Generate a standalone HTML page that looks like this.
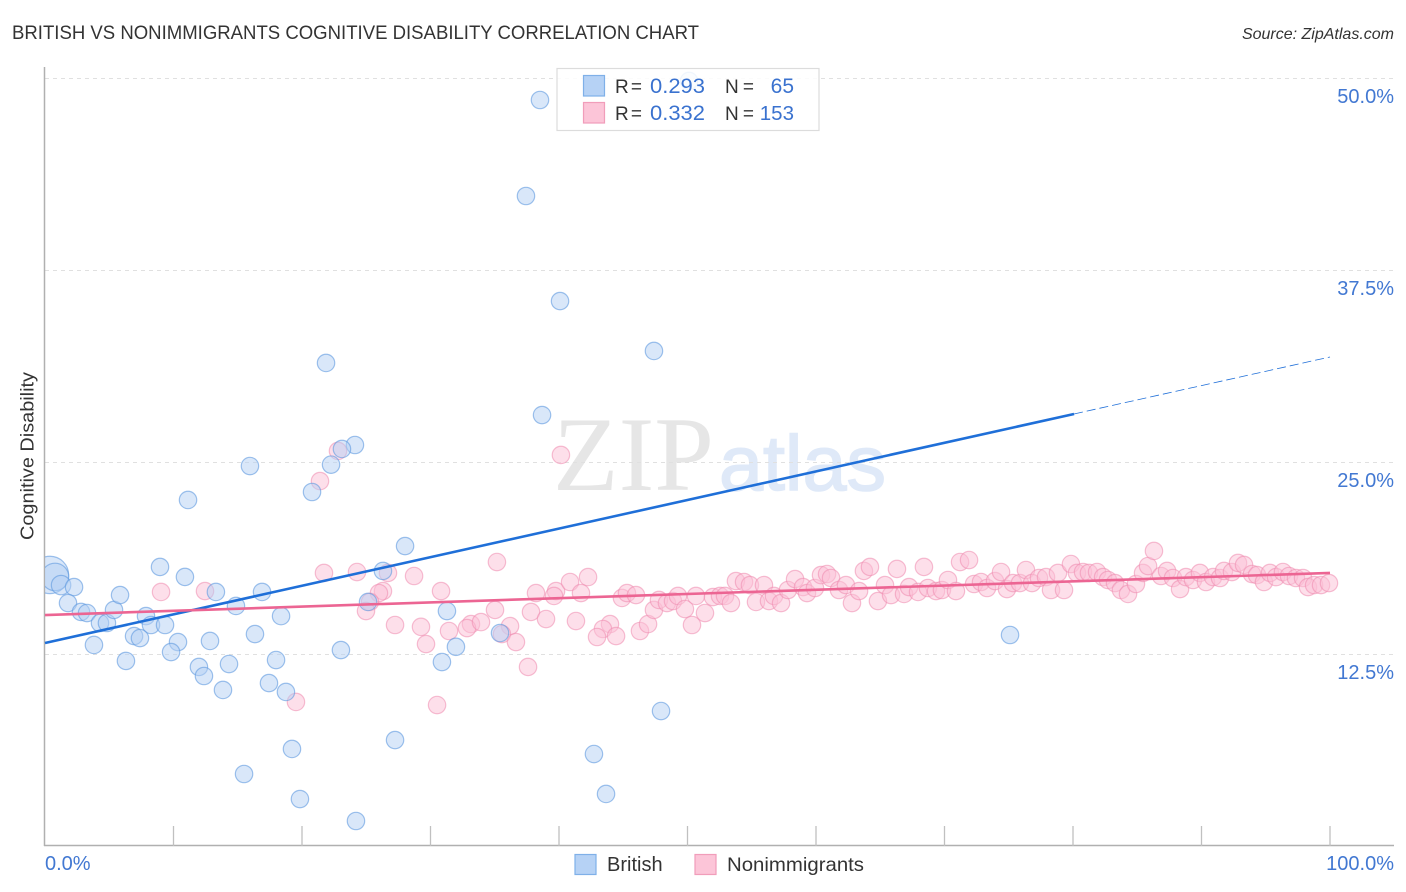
<!DOCTYPE html>
<html lang="en">
<head>
<meta charset="utf-8">
<title>British vs Nonimmigrants Cognitive Disability Correlation Chart</title>
<style>
html,body{margin:0;padding:0;background:#fff;width:1406px;height:892px;overflow:hidden}
svg{display:block;font-family:"Liberation Sans",sans-serif}
</style>
</head>
<body>
<svg id="chart" xmlns="http://www.w3.org/2000/svg" width="1406" height="892" viewBox="0 0 1406 892">
  <defs><clipPath id="plot-clip"><rect x="45" y="60" width="1349" height="786"/></clipPath></defs>
  <text x="12" y="39" font-size="19" fill="#333" textLength="687" lengthAdjust="spacingAndGlyphs">BRITISH VS NONIMMIGRANTS COGNITIVE DISABILITY CORRELATION CHART</text>
  <text x="1394" y="39" font-size="16" font-style="italic" fill="#333" text-anchor="end">Source: ZipAtlas.com</text>
  <g>
    <text x="553" y="490" font-family="'Liberation Serif',serif" font-size="106" fill="#e6e6e6" textLength="161" lengthAdjust="spacingAndGlyphs">ZIP</text>
    <text x="719" y="490" font-size="78" fill="#dfe9f8" stroke="#dfe9f8" stroke-width="1.5" textLength="167" lengthAdjust="spacingAndGlyphs">atlas</text>
  </g>
  <g id="grid"></g>
  <g id="axes">
    <line x1="44.5" y1="67" x2="44.5" y2="846" stroke="#b0b0b0" stroke-width="1.5"/>
    <line x1="44" y1="845.5" x2="1394" y2="845.5" stroke="#b0b0b0" stroke-width="1.5"/>
  </g>
  <g id="xticks"></g>
  <g id="points" clip-path="url(#plot-clip)"></g>
  <g id="trends"></g>
  <g id="ylabels"></g>
  <g id="xlabels"></g>
  <text transform="translate(33.5 456) rotate(-90)" font-size="18.5" fill="#333" text-anchor="middle" textLength="168" lengthAdjust="spacingAndGlyphs">Cognitive Disability</text>

  <g>
    <rect x="557" y="68.5" width="262" height="62" fill="#fff" fill-opacity="0.85" stroke="#dcdcdc" stroke-width="1.2"/>
    <rect x="583.5" y="75.5" width="21" height="20.5" fill="#b6d2f5" stroke="#7fb0e8" stroke-width="1.2"/>
    <rect x="583.5" y="102.5" width="21" height="20.5" fill="#fcc5d8" stroke="#f19dba" stroke-width="1.2"/>
    <text x="615" y="93" font-size="19" fill="#333" textLength="27" lengthAdjust="spacing">R =</text>
    <text x="650" y="93" font-size="21" fill="#3a72cf" textLength="55" lengthAdjust="spacingAndGlyphs">0.293</text>
    <text x="725" y="93" font-size="19" fill="#333" textLength="29" lengthAdjust="spacing">N =</text>
    <text x="794" y="93" font-size="21" fill="#3a72cf" text-anchor="end">65</text>
    <text x="615" y="120" font-size="19" fill="#333" textLength="27" lengthAdjust="spacing">R =</text>
    <text x="650" y="120" font-size="21" fill="#3a72cf" textLength="55" lengthAdjust="spacingAndGlyphs">0.332</text>
    <text x="725" y="120" font-size="19" fill="#333" textLength="29" lengthAdjust="spacing">N =</text>
    <text x="794" y="120" font-size="20.5" fill="#3a72cf" text-anchor="end">153</text>
  </g>

  <g>
    <rect x="575" y="854.5" width="21" height="20" fill="#b6d2f5" stroke="#7fb0e8" stroke-width="1.2"/>
    <text x="607" y="871" font-size="20" fill="#333">British</text>
    <rect x="695" y="854.5" width="21" height="20" fill="#fcc5d8" stroke="#f19dba" stroke-width="1.2"/>
    <text x="727" y="871" font-size="19.5" fill="#333" textLength="137" lengthAdjust="spacingAndGlyphs">Nonimmigrants</text>
  </g>
</svg>
<script>
const yTickValues = [12.5, 25, 37.5, 50];
const yTickLabels = ["12.5%", "25.0%", "37.5%", "50.0%"];
const xTickValues = [10, 20, 30, 40, 50, 60, 70, 80, 90, 100];
const xEndValues = [0, 100];
const xEndLabels = ["0.0%", "100.0%"];

const britishX = [0.39,0.78,1.25,2.26,1.79,2.80,3.27,4.28,4.82,5.37,5.84,8.95,10.89,13.3,16.89,14.86,7.86,8.25,9.34,18.37,6.93,7.39,3.81,10.35,9.81,12.84,16.34,23.03,6.3,11.98,12.37,14.32,17.98,13.85,17.43,18.75,19.22,15.49,19.84,24.2,38.52,37.43,40.08,47.39,21.87,38.68,24.12,23.11,15.95,22.26,20.78,11.13,28.02,26.3,25.14,31.28,31.98,30.89,35.41,47.94,27.24,42.72,43.66,75.1,50.12];
const britishY = [17.68,17.55,17.02,16.89,15.85,15.27,15.2,14.55,14.55,15.4,16.37,18.2,17.55,16.57,16.57,15.66,15.0,14.42,14.42,15.0,13.7,13.57,13.12,13.31,12.66,13.38,13.83,12.79,12.08,11.69,11.1,11.88,12.14,10.19,10.64,10.06,6.35,4.72,3.09,1.66,48.6,42.35,35.51,32.26,31.48,28.09,26.14,25.88,24.77,24.86,23.08,22.56,19.56,17.94,15.92,15.33,13.0,12.01,13.9,8.82,6.93,6.02,3.42,13.77,49.84];
const britishLeadWeights = [4.6, 2.5, 1.25];

const nonimmigrantsX = [21.71,24.28,26.69,28.72,35.17,30.82,26.3,25.99,25.29,24.98,27.24,29.26,29.65,31.44,33.15,32.84,33.93,35.02,36.19,35.56,36.65,37.59,30.51,19.53,38.21,37.82,38.99,39.77,39.61,40.86,42.26,41.71,41.32,43.97,43.42,42.96,44.44,46.3,46.93,44.9,45.29,45.99,47.39,47.78,48.4,48.87,49.26,49.8,50.66,50.35,40.15,21.4,22.8,9.03,12.45,51.36,51.98,52.53,52.92,53.38,53.77,54.4,54.86,55.95,55.33,56.34,56.73,57.28,57.82,58.37,58.99,59.3,59.92,60.39,60.86,61.17,61.79,62.33,62.8,63.35,63.73,64.2,64.82,65.37,65.84,66.3,66.85,67.24,67.94,68.4,68.71,69.34,69.8,70.27,70.89,71.21,71.91,72.3,72.84,73.31,73.93,74.4,74.86,75.33,75.87,76.34,76.81,77.35,77.9,78.29,78.83,79.3,79.84,80.31,80.78,81.24,81.87,82.34,82.72,83.27,83.73,84.28,84.9,85.45,85.84,86.3,86.85,87.32,87.78,88.33,88.79,89.34,89.88,90.35,90.9,91.44,91.75,92.37,92.84,93.31,93.93,94.32,94.86,95.33,95.8,96.34,96.81,97.35,97.9,98.29,98.76,99.3,99.92];
const nonimmigrantsY = [17.81,17.87,17.81,17.61,18.52,16.63,16.63,16.5,15.92,15.33,14.42,14.3,13.18,14.03,14.48,14.22,14.61,15.4,14.35,13.83,13.31,11.69,9.21,9.41,16.5,15.27,14.81,16.63,16.31,17.22,17.54,16.5,14.68,14.48,14.16,13.64,13.7,14.03,14.48,16.18,16.5,16.37,15.4,16.05,15.85,15.98,16.31,15.46,16.31,14.42,25.49,23.79,25.75,16.57,16.63,15.2,16.24,16.31,16.31,15.85,17.28,17.22,17.02,17.02,15.92,15.98,16.31,15.85,16.7,17.41,16.89,16.5,16.83,17.67,17.74,17.48,16.7,17.02,15.85,16.63,17.94,18.2,15.98,17.02,16.37,18.07,16.44,16.89,16.57,18.2,16.83,16.63,16.7,17.35,16.63,18.52,18.65,17.09,17.22,16.83,17.28,17.87,16.76,17.15,17.15,18.0,17.15,17.48,17.54,16.7,17.81,16.7,18.39,17.81,17.87,17.81,17.87,17.54,17.35,17.15,16.7,16.44,17.09,17.81,18.26,19.24,17.61,17.94,17.48,16.76,17.54,17.35,17.81,17.22,17.54,17.48,17.94,17.87,18.46,18.33,17.74,17.67,17.22,17.81,17.54,17.87,17.61,17.48,17.48,16.89,17.02,17.02,17.15];

const britishTrendX = [0, 80.08, 100];
const britishTrendY = [13.25, 28.16, 31.87];
const nonimmigrantsTrendX = [0, 100];
const nonimmigrantsTrendY = [15.07, 17.81];

const SVG_NS = "http://www.w3.org/2000/svg";
function xScale(v) { return 45 + v * 12.85; }
function yScale(v) { return 846.5 - v * 15.36; }
function make(tag, parentId, attrs, text) {
  const el = document.createElementNS(SVG_NS, tag);
  for (const k in attrs) el.setAttribute(k, attrs[k]);
  if (text !== undefined) el.textContent = text;
  document.getElementById(parentId).appendChild(el);
  return el;
}

yTickValues.forEach(function (v, i) {
  const line = make("line", "grid", { x1: 45, x2: 1394, y1: yScale(v), y2: yScale(v), stroke: "#e0e0e0", "stroke-width": 1, "stroke-dasharray": "4 4" });
  
  
  const label = make("text", "ylabels", { x: 1394, y: yScale(v) + 24.5, "font-size": 20, fill: "#4278d2", "text-anchor": "end" }, yTickLabels[i]);
  
  
});

xTickValues.forEach(function (v) {
  const tick = make("line", "xticks", { x1: xScale(v), x2: xScale(v), y1: 826, y2: 846, stroke: "#c0c0c0", "stroke-width": 1.3 });
  
  
});

xEndValues.forEach(function (v, i) {
  const label = make("text", "xlabels", { x: i === 0 ? xScale(v) : 1394, y: 870, "font-size": 20, fill: "#4278d2", "text-anchor": i === 0 ? "start" : "end" }, xEndLabels[i]);
  
  
});

nonimmigrantsX.forEach(function (v, i) {
  const dot = make("circle", "points", { cx: xScale(v), cy: yScale(nonimmigrantsY[i]), r: 8.7, fill: "#fbc0d5", "fill-opacity": 0.5, stroke: "#ee8aae", "stroke-opacity": 0.55, "stroke-width": 1.2 });
  
  
});

britishX.forEach(function (v, i) {
  const weight = i < britishLeadWeights.length ? britishLeadWeights[i] : 1;
  const dot = make("circle", "points", { cx: xScale(v), cy: yScale(britishY[i]), r: 8.7 * Math.sqrt(weight), fill: "#b4d0f4", "fill-opacity": 0.5, stroke: "#5f9ae0", "stroke-opacity": 0.6, "stroke-width": 1.2 });
  
  
});

const britishSolid = make("line", "trends", { x1: xScale(britishTrendX[0]), y1: yScale(britishTrendY[0]), x2: xScale(britishTrendX[1]), y2: yScale(britishTrendY[1]), stroke: "#1f6fd8", "stroke-width": 2.6 });



const britishDashed = make("line", "trends", { x1: xScale(britishTrendX[1]), y1: yScale(britishTrendY[1]), x2: xScale(britishTrendX[2]), y2: yScale(britishTrendY[2]), stroke: "#1f6fd8", "stroke-width": 0.8, "stroke-dasharray": "9 4" });



const pinkTrend = make("line", "trends", { x1: xScale(nonimmigrantsTrendX[0]), y1: yScale(nonimmigrantsTrendY[0]), x2: xScale(nonimmigrantsTrendX[1]), y2: yScale(nonimmigrantsTrendY[1]), stroke: "#ec6593", "stroke-width": 2.6 });


</script>
</body>
</html>
